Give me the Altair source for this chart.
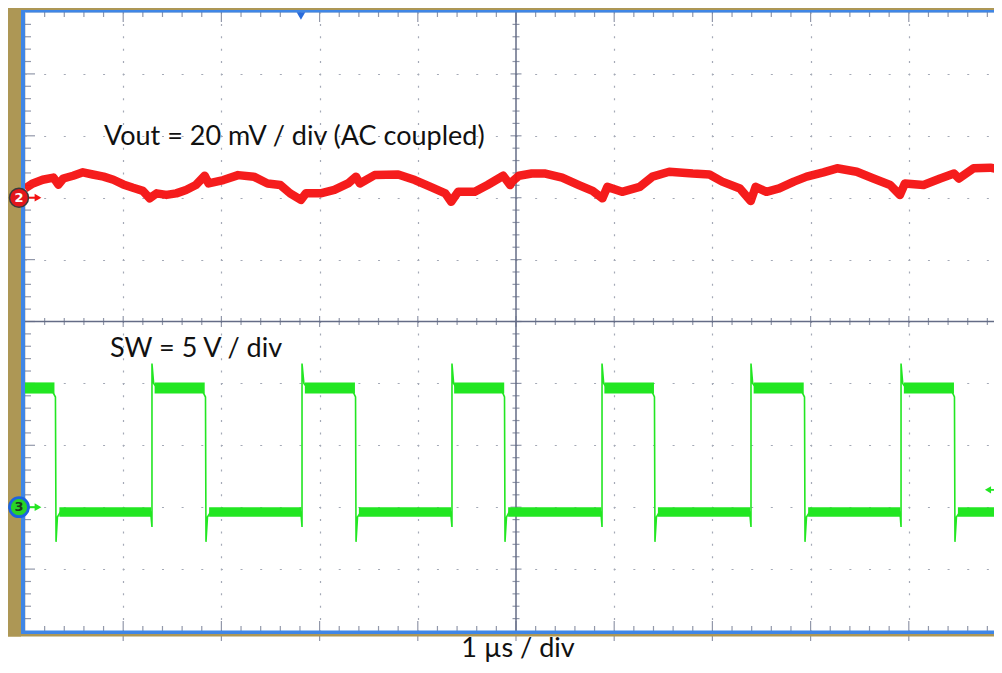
import altair as alt
import pandas as pd
import numpy as np

# ---------------- data ----------------
# Channel 2 : Vout ripple (mV, AC coupled), 20 mV/div, ground marker at +2 div
vout_t = [0.0, 0.08, 0.18, 0.29, 0.34, 0.39, 0.49, 0.59, 0.69, 0.80,
          0.90, 1.00, 1.10, 1.20, 1.27, 1.34, 1.44, 1.54, 1.64, 1.74,
          1.83, 1.87, 2.02, 2.17, 2.33, 2.47, 2.60, 2.70, 2.81, 2.86,
          3.01, 3.15, 3.29, 3.37, 3.41, 3.56, 3.80, 3.97, 4.13, 4.28,
          4.34, 4.41, 4.58, 4.71, 4.87, 4.94, 4.96, 5.03, 5.16, 5.30,
          5.47, 5.64, 5.78, 5.88, 5.93, 6.08, 6.26, 6.39, 6.56, 6.80,
          6.97, 7.10, 7.28, 7.39, 7.44, 7.55, 7.68, 7.83, 7.96, 8.13,
          8.27, 8.47, 8.64, 8.81, 8.91, 8.96, 9.15, 9.32, 9.46, 9.51,
          9.66, 9.83, 9.95]
vout_mv = [3.0, 4.6, 5.8, 6.5, 4.2, 6.2, 7.1, 8.2, 7.5, 6.8,
           5.8, 4.3, 3.2, 2.2, -0.2, 1.4, 0.9, 1.4, 2.5, 4.1,
           7.1, 4.6, 5.7, 7.3, 6.8, 4.6, 4.1, 1.4, -0.7, 1.4,
           1.4, 2.5, 4.6, 6.8, 4.6, 7.3, 7.5, 5.7, 3.5, 1.4,
           -1.3, 1.9, 1.9, 4.1, 7.1, 4.1, 5.2, 7.1, 7.8, 7.8,
           6.5, 4.1, 2.2, -0.2, 3.5, 1.9, 3.5, 6.8, 8.4, 7.8,
           7.5, 5.2, 3.0, -1.1, 3.5, 1.9, 3.0, 5.2, 6.8, 8.2,
           9.5, 8.4, 6.2, 4.1, 0.9, 4.6, 4.1, 6.2, 7.8, 6.2,
           9.5, 9.7, 8.9]

# Channel 3 : switch node (V), 5 V/div, ground marker at -3 div
sw_t = [0.00, 0.27, 0.31, 0.316, 0.33, 0.36,
        1.28, 1.293, 1.293, 1.31, 1.34,
        1.80, 1.838, 1.843, 1.858, 1.89,
        2.81, 2.821, 2.821, 2.84, 2.87,
        3.33, 3.366, 3.371, 3.386, 3.42,
        4.335, 4.348, 4.348, 4.365, 4.39,
        4.85, 4.883, 4.888, 4.903, 4.93,
        5.865, 5.876, 5.876, 5.893, 5.92,
        6.375, 6.41, 6.415, 6.43, 6.46,
        7.38, 7.393, 7.393, 7.41, 7.44,
        7.90, 7.938, 7.943, 7.958, 7.99,
        8.91, 8.921, 8.921, 8.938, 8.965,
        9.43, 9.465, 9.470, 9.485, 9.52,
        9.95]
sw_v = [9.7, 9.5, 8.9, -2.8, -0.8, -0.4,
        -0.4, -1.6, 11.6, 10.0, 9.7,
        9.5, 8.9, -2.8, -0.8, -0.4,
        -0.4, -1.6, 11.6, 10.0, 9.7,
        9.5, 8.9, -2.8, -0.8, -0.4,
        -0.4, -1.6, 11.6, 10.0, 9.7,
        9.5, 8.9, -2.8, -0.8, -0.4,
        -0.4, -1.6, 11.6, 10.0, 9.7,
        9.5, 8.9, -2.8, -0.8, -0.4,
        -0.4, -1.6, 11.6, 10.0, 9.7,
        9.5, 8.9, -2.8, -0.8, -0.4,
        -0.4, -1.6, 11.6, 10.0, 9.7,
        9.5, 8.9, -2.8, -0.8, -0.4,
        -0.4]
# noisy flat parts of the switch waveform (start, end) in us
sw_low_start = [0.35, 1.875, 3.40, 4.92, 6.445, 7.975, 9.50]
sw_low_end = [1.285, 2.815, 4.34, 5.87, 7.385, 8.915, 9.95]
sw_high_start = [0.00, 1.32, 2.85, 4.37, 5.90, 7.42, 8.95]
sw_high_end = [0.30, 1.83, 3.36, 4.88, 6.405, 7.93, 9.46]
sw_low_level, sw_low_noise = -0.39, 0.38
sw_high_level, sw_high_noise = 9.63, 0.45

ch2_offset_div, ch2_scale = 2.0, 20.0   # mV/div
ch3_offset_div, ch3_scale = -3.0, 5.0   # V/div
trigger_time = 2.81      # us
trigger_level = 1.4      # V (ch3)

# ---------------- tables ----------------
vout = pd.DataFrame({"t": vout_t, "mv": vout_mv})
vout["div"] = ch2_offset_div + vout["mv"] / ch2_scale
sw = pd.DataFrame({"t": sw_t, "v": sw_v})
sw["div"] = ch3_offset_div + sw["v"] / ch3_scale
sw["i"] = range(len(sw))
bands = pd.DataFrame({
    "t0": sw_low_start + sw_high_start,
    "t1": sw_low_end + sw_high_end,
    "lvl": [sw_low_level] * 7 + [sw_high_level] * 7,
    "noise": [sw_low_noise] * 7 + [sw_high_noise] * 7,
})
bands["y0"] = ch3_offset_div + (bands["lvl"] - bands["noise"]) / ch3_scale
bands["y1"] = ch3_offset_div + (bands["lvl"] + bands["noise"]) / ch3_scale

W, H = 969, 619
PX_PER_DIV = 98.2
X_MAX = W / PX_PER_DIV
minor_x = pd.DataFrame({"x": np.round(np.arange(0.2, X_MAX, 0.2), 3)})
minor_x["major"] = np.isclose(minor_x["x"] % 1, 0) | np.isclose(minor_x["x"] % 1, 1)
minor_y = pd.DataFrame({"y": np.round(np.arange(-4.8, 5.0, 0.2), 3)})
minor_y["major"] = np.isclose(np.abs(minor_y["y"]) % 1, 0) | np.isclose(np.abs(minor_y["y"]) % 1, 1)

xs = alt.Scale(domain=[0, X_MAX], nice=False, zero=False)
ys = alt.Scale(domain=[-5, 5], nice=False, zero=False)
TICK = "#646c86"
GRID = "#a4a9b6"

base_axis_x = alt.Axis(values=[1, 2, 3, 4, 6, 7, 8, 9], grid=True, labels=False, ticks=False,
                       domain=False, title=None, gridColor=GRID, gridWidth=1.2,
                       gridDash=[2, 10.38], gridDashOffset=1)
base_axis_y = alt.Axis(values=[-4, -3, -2, -1, 1, 2, 3, 4], grid=True, labels=False, ticks=False,
                       domain=False, title=None, gridColor=GRID, gridWidth=1.2,
                       gridDash=[2, 17.64], gridDashOffset=1)

grid = alt.Chart(pd.DataFrame({"x": [0.0], "y": [0.0]})).mark_point(opacity=0).encode(
    x=alt.X("x:Q", scale=xs, axis=base_axis_x),
    y=alt.Y("y:Q", scale=ys, axis=base_axis_y),
)

center_v = alt.Chart(pd.DataFrame({"x": [5.0]})).mark_rule(color=TICK, strokeWidth=1.5).encode(
    x=alt.X("x:Q", scale=xs))
center_h = alt.Chart(pd.DataFrame({"y": [0.0]})).mark_rule(color=TICK, strokeWidth=1.5).encode(
    y=alt.Y("y:Q", scale=ys))

def xticks(df, y, size, major):
    d = df[df["major"] == major]
    return alt.Chart(d).mark_tick(orient="vertical", size=size, thickness=1.2, color=TICK).encode(
        x=alt.X("x:Q", scale=xs), y=alt.Y(datum=y, scale=ys))

def yticks(df, x, size, major):
    d = df[df["major"] == major]
    return alt.Chart(d).mark_tick(orient="horizontal", size=size, thickness=1.2, color=TICK).encode(
        y=alt.Y("y:Q", scale=ys), x=alt.X(datum=x, scale=xs))

tick_layers = [
    xticks(minor_x, 0, 7, False), xticks(minor_x, 0, 11, True),
    yticks(minor_y, 5, 7, False), yticks(minor_y, 5, 11, True),
    xticks(minor_x, 5, 10, False), xticks(minor_x, 5, 20, True),
    xticks(minor_x, -5, 10, False), xticks(minor_x, -5, 20, True),
    yticks(minor_y, 0, 12, False), yticks(minor_y, 0, 20, True),
]

RED = "#f41010"
GREEN = "#22e622"

red_line = alt.Chart(vout).mark_line(color=RED, strokeWidth=8.5, strokeJoin="round",
                                     opacity=0.95, clip=True).encode(
    x=alt.X("t:Q", scale=xs), y=alt.Y("div:Q", scale=ys))

green_band = alt.Chart(bands).mark_rect(color=GREEN, clip=True).encode(
    x=alt.X("t0:Q", scale=xs), x2="t1:Q",
    y=alt.Y("y0:Q", scale=ys), y2="y1:Q")
green_line = alt.Chart(sw).mark_line(color=GREEN, strokeWidth=1.6, clip=True).encode(
    x=alt.X("t:Q", scale=xs), y=alt.Y("div:Q", scale=ys), order="i:Q")

def prect(x0, x1, y0, y1, color):
    return alt.Chart(pd.DataFrame({"a": [0]})).mark_rect(color=color, clip=False).encode(
        x=alt.value(x0), x2=alt.value(x1), y=alt.value(y0), y2=alt.value(y1))

TAN = "#ad9755"
BLUE = "#3f86e6"
frame = [
    prect(-17, -4, -4, 624.5, TAN),
    prect(-17, W, -4, -2, TAN),
    prect(-17, W, 622, 624.5, TAN),
    prect(-4, 0, -2, 622, BLUE),
    prect(-4, W, -2, 0.5, BLUE),
    prect(-4, W, H - 0.5, 622, BLUE),
]

one = pd.DataFrame({"a": [0]})
def marker(div, fill, stroke, sw_, label, lab_color, arrow_color):
    pos_y = alt.Y(datum=div, scale=ys)
    return [
        alt.Chart(one).mark_rule(color=arrow_color, strokeWidth=2, clip=False).encode(
            x=alt.value(0), x2=alt.value(11), y=pos_y),
        alt.Chart(one).mark_point(shape="triangle-right", filled=True, color=arrow_color,
                                  size=60, opacity=1, clip=False).encode(x=alt.value(13), y=pos_y),
        alt.Chart(one).mark_circle(fill=fill, stroke=stroke, strokeWidth=sw_, size=360,
                                   opacity=1, clip=False).encode(x=alt.value(-6), y=pos_y),
        alt.Chart(one).mark_text(text=label, color=lab_color, fontSize=13, fontWeight="bold",
                                 font="DejaVu Sans", baseline="middle", align="center", clip=False).encode(
            x=alt.value(-6), y=pos_y),
    ]

markers = (marker(ch2_offset_div, "#e3161c", "#3b3b3b", 1.5, "2", "white", RED)
           + marker(ch3_offset_div, "#28d428", "#1b63e0", 2.8, "3", "#1d3a1d", GREEN))

trig_t = alt.Chart(one).mark_point(shape="triangle-down", filled=True, color="#2a6cdc",
                                   size=75, opacity=1).encode(
    x=alt.X(datum=trigger_time, scale=xs), y=alt.value(4))
trig_div = ch3_offset_div + trigger_level / ch3_scale
trig_l = [
    alt.Chart(one).mark_rule(color=GREEN, strokeWidth=1.8).encode(
        x=alt.value(963), x2=alt.value(W), y=alt.Y(datum=trig_div, scale=ys)),
    alt.Chart(one).mark_point(shape="triangle-left", filled=True, color=GREEN, size=50,
                              opacity=1).encode(x=alt.value(963), y=alt.Y(datum=trig_div, scale=ys)),
]

def label(text, x, y, size, align="left"):
    return alt.Chart(one).mark_text(text=text, font="Lato", fontSize=size, color="#111111",
                                    align=align, baseline="alphabetic", clip=False).encode(
        x=alt.value(x), y=alt.value(y))

texts = [
    label("Vout = 20 mV / div (AC coupled)", 79, 133, 27),
    label("SW = 5 V / div", 85, 345, 27),
    label("1 µs / div", 493, 645, 27, align="center"),
]

chart = alt.layer(
    grid, center_v, center_h, *tick_layers, *frame,
    red_line, green_band, green_line, *trig_l, trig_t, *markers, *texts,
).properties(
    width=W, height=H, autosize="none",
    padding={"left": 17, "top": 4, "right": 0, "bottom": 34},
).configure_view(fill="white", stroke=None).configure(background="white")

chart.save("out.html", embed_options={"renderer": "svg", "actions": False})
